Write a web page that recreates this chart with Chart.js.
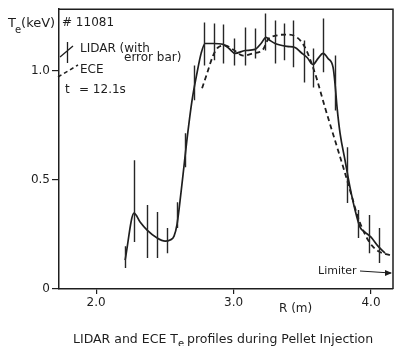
<!DOCTYPE html>
<html><head><meta charset="utf-8">
<script src="https://cdn.jsdelivr.net/npm/chart.js@4.4.1/dist/chart.umd.min.js"></script>
<style>html,body{margin:0;padding:0;background:#fff}#wrap{width:395px;height:346px;position:relative}</style>
</head><body><div id="wrap"><canvas id="c" width="395" height="346"></canvas></div>
<script>
// ---- data ----
const xTicks = [2.0, 3.0, 4.0];
const yTicks = [0, 0.5, 1.0];
// LIDAR smoothed profile (solid)
const fitR = [2.211,2.276,2.320,2.371,2.444,2.502,2.538,2.567,2.589,2.618,2.640,2.662,2.698,2.735,2.764,2.793,2.851,2.924,2.967,3.011,3.084,3.156,3.200,3.236,3.265,3.302,3.389,3.447,3.491,3.535,3.578,3.615,3.651,3.687,3.724,3.738,3.753,3.775,3.811,3.847,3.884,3.920,3.956,4.000,4.051,4.102];
const fitT = [0.132,0.347,0.306,0.269,0.233,0.219,0.224,0.242,0.297,0.443,0.566,0.689,0.863,0.991,1.078,1.123,1.123,1.119,1.100,1.078,1.091,1.096,1.123,1.151,1.137,1.123,1.110,1.105,1.082,1.059,1.027,1.055,1.078,1.055,1.014,0.941,0.831,0.712,0.589,0.466,0.361,0.283,0.260,0.237,0.196,0.164];
// ECE profile (dashed)
const eceR = [2.771,2.807,2.851,2.887,2.938,2.996,3.069,3.142,3.215,3.251,3.316,3.389,3.462,3.520,3.593,3.665,3.738,3.811,3.862,3.898,3.942,3.993,4.051,4.138];
const eceT = [0.918,0.986,1.068,1.105,1.114,1.096,1.068,1.078,1.096,1.142,1.160,1.164,1.151,1.105,0.986,0.831,0.680,0.530,0.420,0.342,0.269,0.210,0.174,0.155];
// LIDAR error bars
const barR  = [2.211,2.276,2.371,2.444,2.516,2.589,2.647,2.713,2.785,2.858,2.924,3.004,3.084,3.156,3.229,3.302,3.367,3.433,3.513,3.578,3.651,3.738,3.825,3.905,3.985,4.058];
const barLo = [0.096,0.215,0.142,0.142,0.164,0.279,0.557,0.863,1.023,1.046,1.032,1.023,1.023,1.055,1.091,1.032,1.046,1.014,0.945,0.922,0.991,0.817,0.393,0.233,0.164,0.119];
const barHi = [0.196,0.589,0.384,0.352,0.279,0.397,0.712,1.023,1.219,1.215,1.210,1.146,1.196,1.192,1.260,1.228,1.215,1.228,1.137,1.100,1.237,1.068,0.648,0.361,0.338,0.279];

const INK = '#1e1e1e';
const FONT = '"DejaVu Sans", "Liberation Sans", Arial, sans-serif';

const errorBars = {
  id: 'errorBars',
  afterDatasetsDraw(chart) {
    const {ctx, scales:{x, y}} = chart;
    ctx.save();
    ctx.strokeStyle = '#262626';
    ctx.lineWidth = 1.4;
    ctx.beginPath();
    barR.forEach((r, i) => {
      const px = Math.round(x.getPixelForValue(r)) + 0.5;
      ctx.moveTo(px, y.getPixelForValue(barLo[i]));
      ctx.lineTo(px, y.getPixelForValue(barHi[i]));
    });
    ctx.stroke();
    ctx.restore();
  }
};

const frameAndText = {
  id: 'frameAndText',
  afterDraw(chart) {
    const {ctx, chartArea:a} = chart;
    ctx.save();
    ctx.strokeStyle = INK;
    ctx.lineWidth = 1.5;
    ctx.beginPath();
    ctx.moveTo(a.left, a.top);
    ctx.lineTo(a.right, a.top);
    ctx.lineTo(a.right, a.bottom);
    ctx.stroke();

    ctx.fillStyle = INK;
    ctx.textBaseline = 'alphabetic';
    ctx.textAlign = 'left';
    const f = s => s + 'px ' + FONT;
    // y axis title T_e(keV)
    ctx.font = f(13);
    ctx.fillText('T', 8, 27);
    let w = ctx.measureText('T').width;
    ctx.font = f(10);
    ctx.fillText('e', 8 + w - 1, 33);
    let we = ctx.measureText('e').width;
    ctx.font = f(13);
    ctx.fillText('(keV)', 8 + w - 1 + we, 27);

    // legend block
    ctx.font = f(12);
    ctx.fillText('# 11081', 62, 26);
    ctx.fillText('LIDAR (with', 80, 52);
    ctx.fillText('error bar)', 124, 61);
    ctx.fillText('ECE', 80, 73);
    ctx.fillText('t', 65, 93);
    ctx.fillText('= 12.1s', 79, 93);
    // legend symbols
    ctx.lineWidth = 1.3;
    ctx.beginPath();
    ctx.moveTo(67.5, 42); ctx.lineTo(67.5, 63);
    ctx.moveTo(60, 57); ctx.lineTo(73, 46);
    ctx.stroke();
    ctx.setLineDash([4, 3]);
    ctx.lineWidth = 1.5;
    ctx.beginPath();
    ctx.moveTo(58, 77); ctx.lineTo(78, 65);
    ctx.stroke();
    ctx.setLineDash([]);

    // x-axis title
    ctx.font = f(12);
    ctx.fillText('R (m)', 279, 312);

    // limiter annotation
    ctx.font = f(11);
    ctx.fillText('Limiter', 318, 274);
    ctx.lineWidth = 1;
    ctx.beginPath();
    ctx.moveTo(360, 271); ctx.lineTo(391, 273);
    ctx.stroke();
    ctx.beginPath();
    ctx.moveTo(392, 273); ctx.lineTo(385, 270); ctx.lineTo(385, 276); ctx.closePath();
    ctx.fill();

    // caption
    ctx.font = f(12.5);
    let cx = 73;
    const p1 = 'LIDAR and ECE T';
    ctx.fillText(p1, cx, 343);
    cx += ctx.measureText(p1).width;
    ctx.font = f(10);
    ctx.fillText('e', cx, 347);
    cx += ctx.measureText('e').width + 3;
    ctx.font = f(12.5);
    ctx.fillText('profiles during Pellet Injection', cx, 343);
    ctx.restore();
  }
};

const tickFont = {family: FONT, size: 12};

new Chart(document.getElementById('c'), {
  type: 'line',
  data: {
    datasets: [
      {
        label: 'LIDAR',
        data: fitR.map((r, i) => ({x: r, y: fitT[i]})),
        borderColor: INK, borderWidth: 1.7, pointRadius: 0,
        cubicInterpolationMode: 'monotone', fill: false
      },
      {
        label: 'ECE',
        data: eceR.map((r, i) => ({x: r, y: eceT[i]})),
        borderColor: INK, borderWidth: 1.8, borderDash: [5, 3.5], pointRadius: 0,
        cubicInterpolationMode: 'monotone', fill: false
      }
    ]
  },
  options: {
    responsive: false,
    animation: false,
    events: [],
    layout: {padding: {left: 0, right: 2, top: 9, bottom: 0}},
    plugins: {legend: {display: false}, tooltip: {enabled: false}, title: {display: false}},
    scales: {
      x: {
        type: 'linear', min: 1.73, max: 4.16,
        afterBuildTicks: s => { s.ticks = xTicks.map(v => ({value: v})); },
        afterFit: s => { s.height = 57; },
        ticks: {callback: v => v.toFixed(1), font: tickFont, color: INK, padding: 2, maxRotation: 0, autoSkip: false},
        grid: {drawOnChartArea: false, drawTicks: true, tickLength: 5, color: INK, lineWidth: 1.2},
        border: {color: INK, width: 1.5}
      },
      y: {
        type: 'linear', min: 0, max: 1.28,
        afterBuildTicks: s => { s.ticks = yTicks.map(v => ({value: v})); },
        afterFit: s => { s.width = 59; },
        ticks: {callback: v => (v === 0 ? '0' : v.toFixed(1)), font: tickFont, color: INK, padding: 2, autoSkip: false},
        grid: {drawOnChartArea: false, drawTicks: true, tickLength: 7, color: INK, lineWidth: 1.2},
        border: {color: INK, width: 1.5}
      }
    }
  },
  plugins: [errorBars, frameAndText]
});
</script>
</body></html>
